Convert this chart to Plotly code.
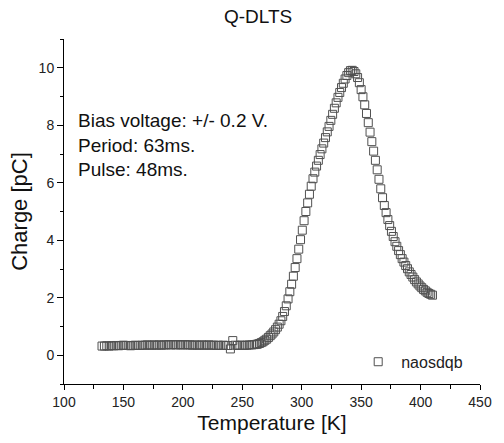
import plotly.graph_objects as go

# Baseline region, 132..262 K, step 2 K
temp_base = list(range(132, 263, 2))
charge_base = [
    0.32, 0.32, 0.33, 0.32, 0.33, 0.33, 0.34, 0.33, 0.34,         # 132-148
    0.35, 0.34, 0.34, 0.33, 0.34, 0.35, 0.34, 0.34, 0.35, 0.35,   # 150-168
    0.36, 0.35, 0.35, 0.36, 0.35, 0.36, 0.35, 0.36, 0.36, 0.37,   # 170-188
    0.36, 0.37, 0.36, 0.37, 0.36, 0.36, 0.37, 0.36, 0.36, 0.35,   # 190-208
    0.36, 0.35, 0.35, 0.36, 0.35, 0.35, 0.36, 0.35, 0.35, 0.34,   # 210-228
    0.35, 0.34, 0.35, 0.34, 0.34,                                 # 230-238
    0.22, 0.51,                                                   # 240-242
    0.35, 0.34, 0.35, 0.35, 0.34,                                 # 244-252
    0.35, 0.36, 0.36, 0.37, 0.38,                                 # 254-262
]

# Peak region, 263..410 K, step 1.5 K
temp_peak = [
    263, 264.5, 266, 267.5, 269,
    270.5, 272, 273.5, 275, 276.5, 278, 279.5,
    281, 282.5, 284, 285.5, 287, 288.5,
    290, 291.5, 293, 294.5, 296, 297.5, 299,
    300.5, 302, 303.5, 305, 306.5, 308, 309.5,
    311, 312.5, 314, 315.5, 317, 318.5,
    320, 321.5, 323, 324.5, 326, 327.5, 329,
    330.5, 332, 333.5, 335, 336.5, 338, 339.5,
    341, 342.5, 344, 345.5, 347, 348.5,
    350, 351.5, 353, 354.5, 356, 357.5, 359,
    360.5, 362, 363.5, 365, 366.5, 368, 369.5,
    371, 372.5, 374, 375.5, 377, 378.5,
    380, 381.5, 383, 384.5, 386, 387.5, 389,
    390.5, 392, 393.5, 395, 396.5, 398, 399.5,
    401, 402.5, 404, 405.5, 407, 408.5,
    410,
]
charge_peak = [
    0.39, 0.41, 0.44, 0.47, 0.52,
    0.56, 0.62, 0.68, 0.74, 0.81, 0.89, 0.98,
    1.08, 1.20, 1.35, 1.52, 1.72, 1.96,
    2.21, 2.47, 2.75, 3.05, 3.36, 3.69, 4.02,
    4.35, 4.68, 5.00, 5.30, 5.60, 5.88, 6.14,
    6.37, 6.58, 6.78, 6.98, 7.18, 7.38,
    7.57, 7.77, 7.96, 8.17, 8.38, 8.59, 8.78,
    8.97, 9.14, 9.31, 9.46, 9.61, 9.73, 9.83,
    9.90, 9.91, 9.87, 9.79, 9.66, 9.48,
    9.24, 8.99, 8.71, 8.41, 8.09, 7.76, 7.43,
    7.10, 6.78, 6.45, 6.12, 5.79, 5.48, 5.21,
    4.96, 4.72, 4.51, 4.31, 4.13, 3.95,
    3.79, 3.64, 3.50, 3.36, 3.24, 3.12, 3.01,
    2.90, 2.81, 2.72, 2.63, 2.55, 2.48, 2.41,
    2.35, 2.29, 2.24, 2.19, 2.15, 2.12,
    2.09,
]

temperature = temp_base + temp_peak
charge = charge_base + charge_peak

series_name = "naosdqb"
title_text = "Q-DLTS"
x_title = "Temperature [K]"
y_title = "Charge [pC]"
info_lines = ["Bias voltage: +/- 0.2 V.", "Period: 63ms.", "Pulse: 48ms."]

FONT = "Liberation Sans, Arial, sans-serif"

fig = go.Figure()
fig.add_trace(go.Scatter(
    x=temperature, y=charge, mode="markers", name=series_name,
    marker=dict(symbol="square-open", size=8, color="#505050",
                line=dict(width=1, color="#505050")),
    showlegend=True,
))

fig.update_layout(
    width=504, height=443,
    margin=dict(l=64, r=16, t=39, b=59),
    paper_bgcolor="white", plot_bgcolor="white",
    font=dict(family=FONT, color="#111111", size=14),
    showlegend=True,
    legend=dict(x=0.70, y=0.015, xanchor="left", yanchor="bottom",
                bgcolor="rgba(0,0,0,0)", font=dict(size=16, family=FONT, color="#222222"),
                itemwidth=36),
    annotations=[
        dict(text=title_text, x=0.467, y=1, xref="paper", yref="paper",
             xanchor="center", yanchor="bottom", yshift=10, showarrow=False,
             font=dict(size=19, family=FONT, color="#111111")),
        dict(text="<br>".join(info_lines), x=0.030, y=0.801, xref="paper", yref="paper",
             xanchor="left", yanchor="top", align="left", showarrow=False,
             font=dict(size=19, family=FONT, color="#111111")),
    ],
)

fig.update_xaxes(
    range=[100, 450], dtick=50, tick0=100,
    showline=True, linecolor="black", linewidth=1, mirror=False,
    ticks="outside", ticklen=5, tickwidth=1, tickcolor="black",
    minor=dict(dtick=25, ticks="outside", ticklen=4, tickcolor="black", tickwidth=1),
    showgrid=False, zeroline=False,
    tickfont=dict(size=14, family=FONT, color="#222222"),
    title=dict(text=x_title, font=dict(size=21, family=FONT, color="#111111"), standoff=6),
)
fig.update_yaxes(
    range=[-1, 11], dtick=2, tick0=0,
    showline=True, linecolor="black", linewidth=1, mirror=False,
    ticks="outside", ticklen=6, tickwidth=1, tickcolor="black",
    minor=dict(dtick=1, ticks="outside", ticklen=3, tickcolor="black", tickwidth=1),
    showgrid=False, zeroline=False,
    tickfont=dict(size=14, family=FONT, color="#222222"),
    title=dict(text=y_title, font=dict(size=22, family=FONT, color="#111111"), standoff=4),
)

fig.write_html("out.html")
